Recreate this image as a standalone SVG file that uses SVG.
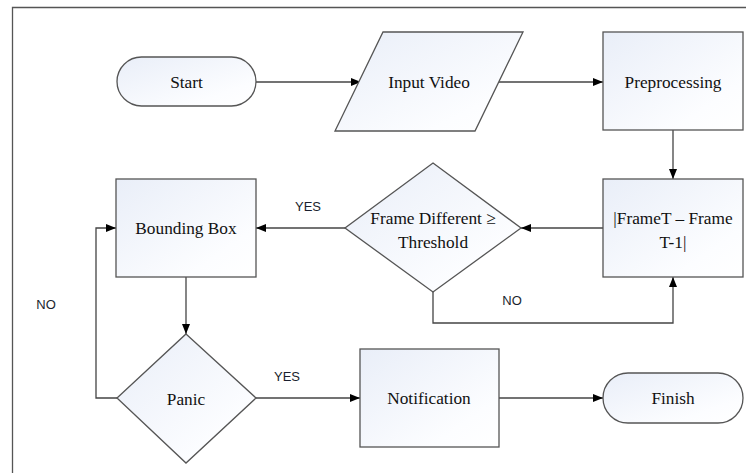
<svg xmlns="http://www.w3.org/2000/svg" width="746" height="473" viewBox="0 0 746 473">
<style>
.shape{fill:url(#g);stroke:#555;stroke-width:1.3}
.t{font-family:"Liberation Serif","Times New Roman",serif;font-size:17.3px;fill:#111;text-anchor:middle;dominant-baseline:central}
.lbl{font-family:"Liberation Sans",Arial,sans-serif;font-size:13px;fill:#1a1f2e;text-anchor:middle;dominant-baseline:central}
.c{fill:none;stroke:#444;stroke-width:1.3;marker-end:url(#ah)}
</style>
<defs>
<linearGradient id="g" x1="0" y1="0" x2="1" y2="1">
<stop offset="0" stop-color="#e9eef8"/>
<stop offset="0.75" stop-color="#fcfdff"/>
<stop offset="1" stop-color="#ffffff"/>
</linearGradient>
<marker id="ah" markerWidth="10" markerHeight="8" refX="10" refY="4" orient="auto" markerUnits="userSpaceOnUse">
<path d="M0,0 L10,4 L0,8 Z" fill="#000"/>
</marker>
</defs>
<rect width="746" height="473" fill="#fff"/>
<path d="M12.5,473 V7.5 H746" fill="none" stroke="#555" stroke-width="1.3"/>
<g id="connectors">
<path class="c" d="M256,82 H361"/>
<path class="c" d="M499,82 H603"/>
<path class="c" d="M673,130 V179"/>
<path class="c" d="M603,228 H521"/>
<path class="c" d="M345,228 H256"/>
<path class="c" d="M433,292 V323 H673 V277"/>
<path class="c" d="M186,277 V334"/>
<path class="c" d="M117,398 H96 V228 H116"/>
<path class="c" d="M256,398 H360"/>
<path class="c" d="M499,398 H603"/>
<text class="lbl" x="308" y="206">YES</text>
<text class="lbl" x="512" y="300">NO</text>
<text class="lbl" x="46" y="304">NO</text>
<text class="lbl" x="287" y="376">YES</text>
</g>
<g id="start">
<rect class="shape" x="117" y="57" width="139" height="49" rx="24.5" ry="24.5"/>
<text class="t" x="186.5" y="82">Start</text>
</g>
<g id="input-video">
<polygon class="shape" points="383,32 523,32 475,131 335,131"/>
<text class="t" x="429" y="82">Input Video</text>
</g>
<g id="preprocessing">
<rect class="shape" x="603" y="32" width="140" height="98"/>
<text class="t" x="673" y="82">Preprocessing</text>
</g>
<g id="frame-diff-box">
<rect class="shape" x="603" y="179" width="140" height="98"/>
<text class="t" x="673" y="218">|FrameT – Frame</text>
<text class="t" x="673" y="242">T-1|</text>
</g>
<g id="threshold">
<polygon class="shape" points="433,163 521,228 433,292 345,228"/>
<text class="t" x="433" y="218">Frame Different ≥</text>
<text class="t" x="433" y="242">Threshold</text>
</g>
<g id="bounding-box">
<rect class="shape" x="116" y="179" width="140" height="98"/>
<text class="t" x="186" y="228">Bounding Box</text>
</g>
<g id="panic">
<polygon class="shape" points="186,334 256,398 186,463 117,398"/>
<text class="t" x="186" y="399">Panic</text>
</g>
<g id="notification">
<rect class="shape" x="360" y="349" width="139" height="98"/>
<text class="t" x="429" y="398">Notification</text>
</g>
<g id="finish">
<rect class="shape" x="603" y="373" width="140" height="50" rx="25" ry="25"/>
<text class="t" x="673" y="398">Finish</text>
</g>
</svg>
